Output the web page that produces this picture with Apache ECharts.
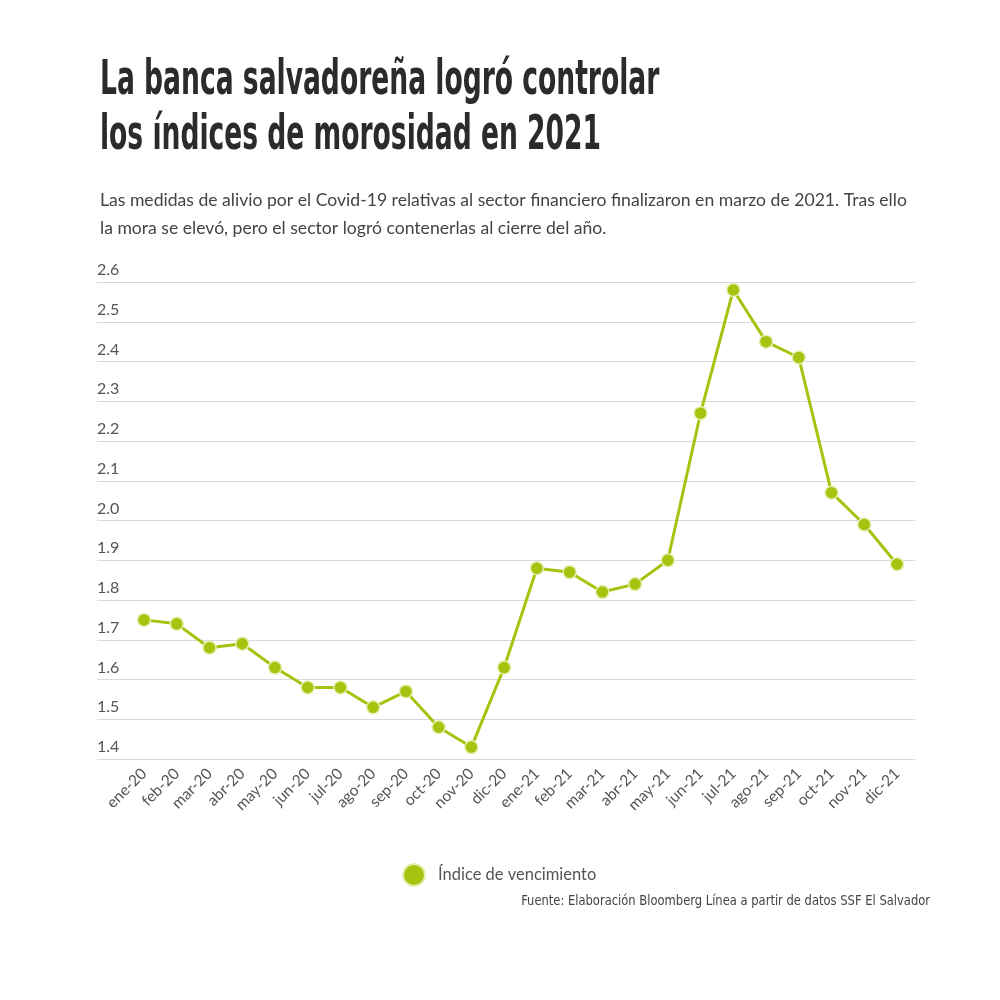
<!DOCTYPE html>
<html>
<head>
<meta charset="utf-8">
<script src="https://cdn.jsdelivr.net/npm/echarts@6/dist/echarts.min.js"></script>
<style>
  html, body { margin: 0; padding: 0; background: #fff; }
  #chart { width: 1000px; height: 1000px; }
</style>
</head>
<body>
<div id="chart"></div>
<script>
const chart = echarts.init(document.getElementById('chart'))

// meses y valores del índice
const months = [
  'ene-20', 'feb-20', 'mar-20', 'abr-20', 'may-20', 'jun-20',
  'jul-20', 'ago-20', 'sep-20', 'oct-20', 'nov-20', 'dic-20',
  'ene-21', 'feb-21', 'mar-21', 'abr-21', 'may-21', 'jun-21',
  'jul-21', 'ago-21', 'sep-21', 'oct-21', 'nov-21', 'dic-21',
]
const indiceVencimiento = [
  1.75, 1.74, 1.68, 1.69, 1.63, 1.58,
  1.58, 1.53, 1.57, 1.48, 1.43, 1.63,
  1.88, 1.87, 1.82, 1.84, 1.90, 2.27,
  2.58, 2.45, 2.41, 2.07, 1.99, 1.89,
]
const yMin = 1.4
const yMax = 2.6
const yStep = 0.1

const titleLines = ['La banca salvadoreña logró controlar', 'los índices de morosidad en 2021']
const subtitleLines = [
  'Las medidas de alivio por el Covid-19 relativas al sector financiero finalizaron en marzo de 2021. Tras ello',
  'la mora se elevó, pero el sector logró contenerlas al cierre del año.',
]
const sourceText = 'Fuente: Elaboración Bloomberg Línea a partir de datos SSF El Salvador'
const seriesName = 'Índice de vencimiento'

const green = '#a4c410'

const option = {
  backgroundColor: '#fff',
  graphic: [
    {
      type: 'text',
      left: 100,
      top: 54,
      scaleX: 0.615,
      style: {
        text: titleLines.join('\n'),
        font: 'bold 48px "DejaVu Sans Condensed", sans-serif',
        lineHeight: 55,
        fill: '#2b2b2b',
      },
    },
    {
      type: 'text',
      left: 100,
      top: 186,
      style: {
        text: subtitleLines.join('\n'),
        font: '17.6px Lato, "Open Sans", sans-serif',
        lineHeight: 28,
        fill: '#444',
      },
    },
    {
      type: 'text',
      right: 70,
      top: 894,
      scaleX: 0.95,
      style: {
        text: sourceText,
        font: '13.5px "DejaVu Sans Condensed", sans-serif',
        fill: '#444',
      },
    },
  ],
  legend: {
    data: [seriesName],
    left: 397,
    top: 858,
    icon: 'circle',
    itemWidth: 22,
    itemHeight: 22,
    itemGap: 10,
    textStyle: { fontSize: 16.5, color: '#555', fontFamily: 'Lato, sans-serif', padding: [0, 0, 0, 8] },
  },
  grid: [
    // rejilla de fondo, más ancha que la línea
    { left: 97, right: 85, top: 282, bottom: 241 },
    { left: 144, right: 103, top: 282, bottom: 241 },
  ],
  xAxis: [
    { gridIndex: 0, type: 'value', show: false, min: 0, max: 1 },
    {
      gridIndex: 1,
      type: 'category',
      data: months,
      boundaryGap: false,
      axisLine: { show: false },
      axisTick: { show: false },
      axisLabel: {
        rotate: 45,
        interval: 0,
        margin: 12,
        fontSize: 15.5,
        color: '#555',
        fontFamily: 'Lato, sans-serif',
      },
    },
  ],
  yAxis: [
    {
      gridIndex: 0,
      type: 'value',
      min: yMin,
      max: yMax,
      interval: yStep,
      axisLine: { show: false },
      axisTick: { show: false },
      splitLine: { lineStyle: { color: '#d9d9d9', width: 1 } },
      axisLabel: {
        inside: true,
        margin: 0,
        align: 'left',
        verticalAlign: 'bottom',
        padding: [0, 0, 4, 0],
        fontSize: 16,
        color: '#555',
        fontFamily: 'Lato, sans-serif',
        formatter: (v) => v.toFixed(1),
      },
    },
    { gridIndex: 1, type: 'value', min: yMin, max: yMax, show: false },
  ],
  series: [
    {
      name: seriesName,
      type: 'line',
      xAxisIndex: 1,
      yAxisIndex: 1,
      data: indiceVencimiento,
      symbol: 'circle',
      symbolSize: 13,
      itemStyle: { color: green, borderColor: '#e4efb0', borderWidth: 1.5 },
      lineStyle: { color: green, width: 3 },
      emphasis: { disabled: true },
      animation: false,
    },
  ],
}

chart.setOption(option)
</script>
</body>
</html>
